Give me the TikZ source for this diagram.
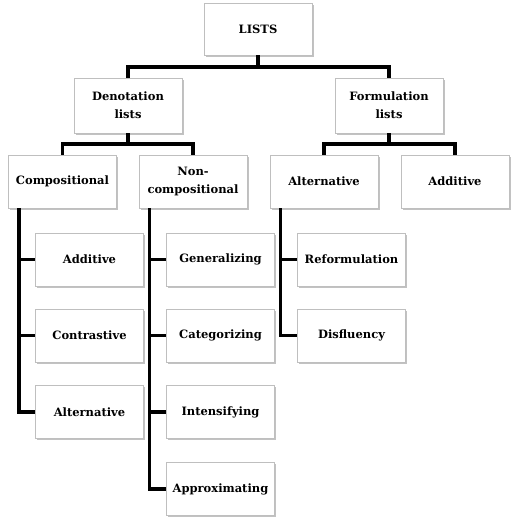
\documentclass[tikz,border=0pt]{standalone}
\usepackage{fontspec}
\setmainfont{DejaVu Serif}
\usetikzlibrary{shadows}

\begin{document}
\begin{tikzpicture}[x=1pt, y=1pt,
		box/.style={draw=gray!50, line width=0.7pt, fill=white,
			minimum width=108pt, minimum height=53pt, inner sep=1pt, align=center,
			font=\bfseries\fontsize{11.5}{18}\selectfont,
			drop shadow={shadow xshift=1.6pt, shadow yshift=-1.6pt, fill=gray!80, opacity=0.6}},
		link/.style={line width=3.6pt}
		]
	\useasboundingbox (0,0) rectangle (511,-518);
	% levels 0 to 2
	\node [box, minimum height=52pt] (lists) at (258,-29) {LISTS};
	\node [box, minimum height=55pt] (denot) at (128,-105.5) {Denotation\\lists};
	\node [box, minimum height=55pt] (formul) at (389,-105.5) {Formulation\\lists};
	\node [box] (comp) at (62.5,-181.5) {Compositional};
	\node [box] (noncomp) at (193,-181.5) {Non-\\compositional};
	\node [box] (falt) at (324,-181.5) {Alternative};
	\node [box] (fadd) at (455,-181.5) {Additive};
	% hanging lists
	\node [box] (cadd) at (89.5,-259.5) {Additive};
	\node [box] (ccontr) at (89.5,-335.5) {Contrastive};
	\node [box] (calt) at (89.5,-412) {Alternative};
	\node [box] (ngen) at (220.5,-259.5) {Generalizing};
	\node [box] (ncat) at (220.5,-335.5) {Categorizing};
	\node [box] (nint) at (220.5,-412) {Intensifying};
	\node [box] (napp) at (220.5,-489) {Approximating};
	\node [box] (aref) at (351.5,-259.5) {Reformulation};
	\node [box] (adis) at (351.5,-335.5) {Disfluency};
	% connectors
	\draw [link] (lists.south) -- ++(0,-11.5) coordinate (b0);
	\draw [link] (denot.north) |- (b0) -| (formul.north);
	\draw [link] (denot.south) -- ++(0,-10.5) coordinate (b1);
	\draw [link] (comp.north) |- (b1) -| (noncomp.north);
	\draw [link] (formul.south) -- ++(0,-10.5) coordinate (b2);
	\draw [link] (falt.north) |- (b2) -| (fadd.north);
	\foreach \c in {cadd,ccontr,calt}
		\draw [link] ([xshift=11pt]comp.south west) |- (\c.west);
	\foreach \c in {ngen,ncat,nint,napp}
		\draw [link] ([xshift=11pt]noncomp.south west) |- (\c.west);
	\foreach \c in {aref,adis}
		\draw [link] ([xshift=11pt]falt.south west) |- (\c.west);
\end{tikzpicture}
\end{document}
